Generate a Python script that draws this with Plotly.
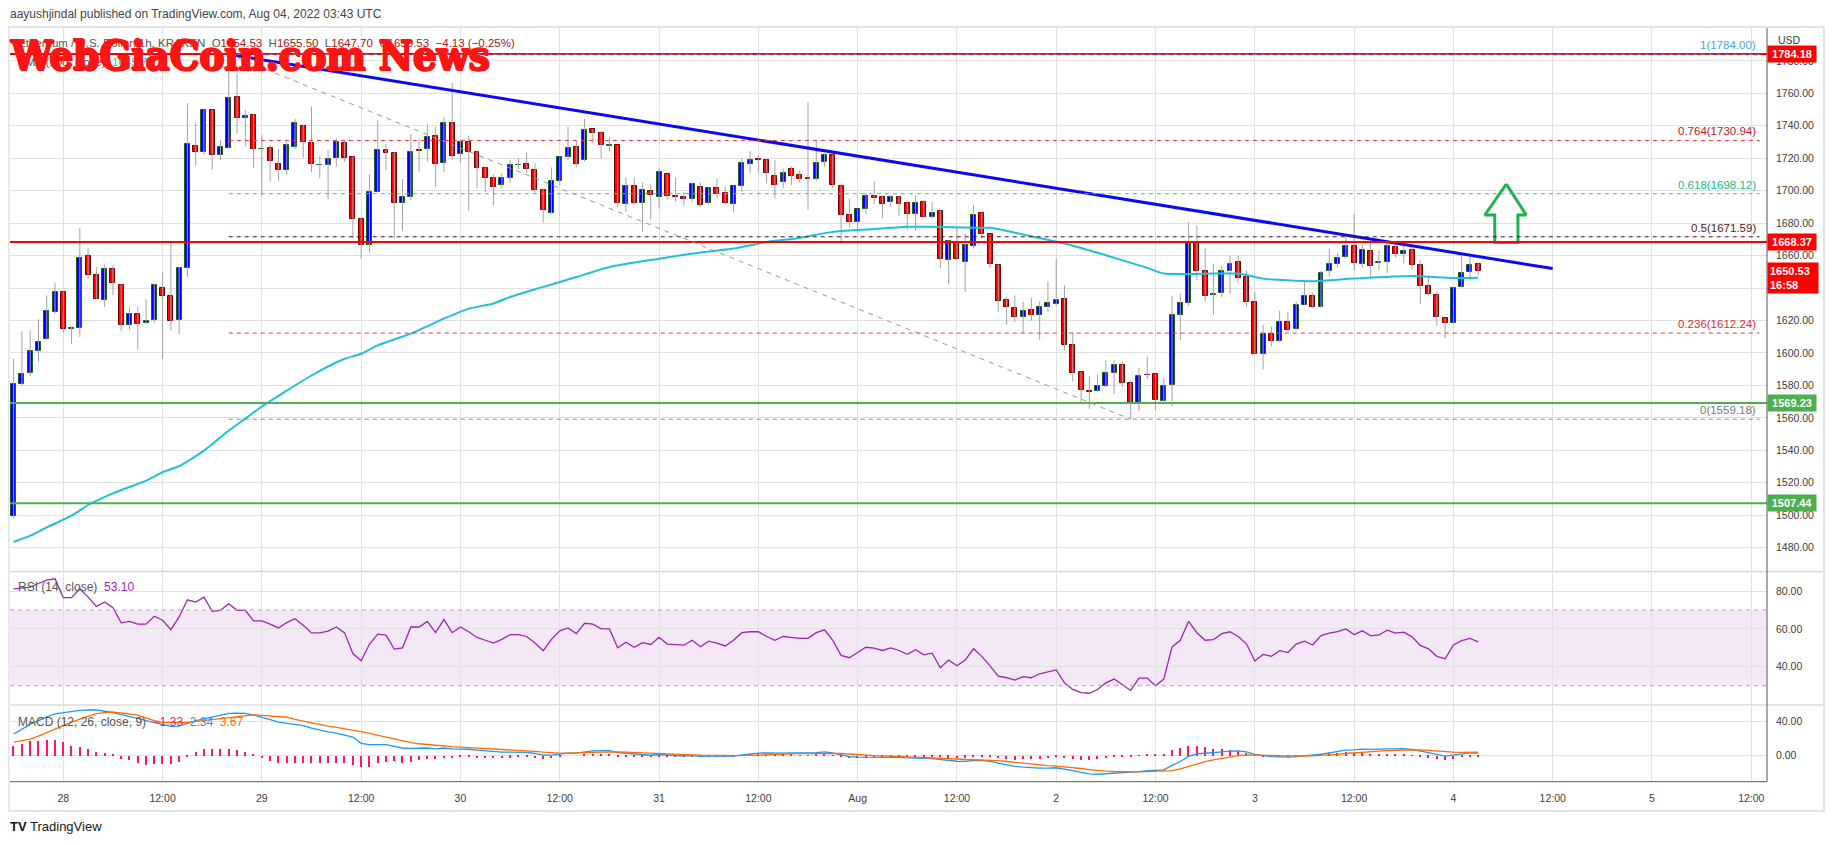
import plotly.graph_objects as go
import pandas as pd

# Screenshot is 1834x845; the HTML body keeps its default 8px margin,
# so the figure is sized to fill the rest of the window exactly.
SCREEN_W, SCREEN_H = 1834, 845
OFF = 8
W, H = SCREEN_W - OFF, SCREEN_H - OFF

# ---------------- DATA ----------------
start_time = "2022-07-27 18:00"      # first 1h candle
ref_time = "2022-07-28 00:00"        # "28" tick

opens = [1499.5, 1581.0, 1587.8, 1601.0, 1608.8, 1625.4, 1637.8, 1615.0, 1615.3, 1659.6,
         1648.3, 1632.8, 1652.0, 1642.1, 1617.4, 1624.2, 1618.4, 1620.3, 1640.2, 1635.3,
         1620.5, 1652.6, 1727.5, 1723.6, 1749.5, 1721.7, 1726.1, 1757.5, 1744.6, 1746.4,
         1725.6, 1726.0, 1716.4, 1712.9, 1727.1, 1739.6, 1729.1, 1715.7, 1715.6, 1719.9,
         1729.1, 1720.5, 1682.8, 1666.8, 1699.1, 1724.8, 1723.0, 1692.5, 1695.8, 1724.9,
         1725.4, 1733.5, 1716.8, 1741.5, 1722.3, 1729.8, 1723.6, 1713.7, 1707.5, 1703.2,
         1707.5, 1715.6, 1716.4, 1712.5, 1700.7, 1686.5, 1705.7, 1720.5, 1726.7, 1718.6,
         1737.8, 1735.3, 1727.7, 1727.9, 1691.5, 1702.6, 1692.7, 1699.5, 1695.8, 1710.0,
         1697.0, 1695.8, 1694.6, 1702.0, 1692.7, 1701.4, 1698.3, 1691.5, 1702.6, 1716.2,
         1719.3, 1718.6, 1708.8, 1705.1, 1713.1, 1709.6, 1708.1, 1706.9, 1717.4, 1721.9,
         1702.6, 1685.3, 1680.4, 1688.4, 1697.0, 1695.8, 1693.1, 1695.8, 1692.7, 1685.7,
         1693.3, 1683.5, 1687.2, 1657.5, 1668.4, 1656.3, 1666.2, 1686.5, 1673.0, 1654.4,
         1632.8, 1627.9, 1622.3, 1626.7, 1623.6, 1628.3, 1630.4, 1633.5, 1604.7, 1588.4,
         1576.7, 1576.7, 1579.8, 1587.8, 1592.7, 1581.6, 1569.3, 1586.7, 1587.2, 1570.5,
         1580.2, 1623.6, 1631.0, 1668.0, 1650.7, 1635.5, 1637.2, 1650.7, 1656.1, 1647.0,
         1631.6, 1599.5, 1611.6, 1607.2, 1619.0, 1614.9, 1629.8, 1635.3, 1628.3, 1650.7,
         1655.1, 1659.2, 1665.6, 1655.1, 1663.1, 1655.7, 1656.1, 1665.0, 1661.2, 1663.7,
         1654.4, 1641.5, 1635.9, 1621.5, 1618.4, 1640.7, 1649.9, 1654.53]
highs = [1596.4, 1613.3, 1613.9, 1620.7, 1635.5, 1643.3, 1638.0, 1616.4, 1676.9, 1664.5,
         1652.8, 1654.7, 1654.1, 1642.5, 1628.1, 1628.5, 1633.0, 1642.9, 1649.5, 1667.6,
         1653.0, 1754.0, 1742.1, 1750.0, 1750.0, 1731.2, 1784.0, 1772.3, 1749.7, 1747.2,
         1734.3, 1728.1, 1725.6, 1730.2, 1744.2, 1740.9, 1751.6, 1721.3, 1725.0, 1732.2,
         1731.2, 1721.0, 1683.8, 1710.2, 1743.5, 1728.7, 1724.0, 1707.1, 1734.9, 1732.2,
         1741.5, 1739.4, 1745.0, 1766.2, 1731.2, 1733.9, 1724.4, 1714.7, 1710.0, 1710.6,
         1718.8, 1719.9, 1723.6, 1716.8, 1701.4, 1714.3, 1721.0, 1739.4, 1730.6, 1744.2,
         1738.0, 1736.7, 1732.8, 1728.0, 1708.2, 1708.0, 1704.9, 1704.0, 1713.7, 1710.2,
         1708.2, 1699.3, 1704.9, 1704.9, 1702.0, 1707.5, 1702.4, 1702.8, 1719.9, 1724.4,
         1722.0, 1719.9, 1718.8, 1713.7, 1714.7, 1712.1, 1754.4, 1731.2, 1723.0, 1722.3,
         1704.5, 1694.8, 1688.5, 1698.7, 1705.5, 1697.2, 1697.7, 1696.8, 1693.1, 1697.2,
         1694.2, 1693.1, 1688.6, 1669.5, 1677.7, 1673.3, 1691.1, 1687.6, 1673.2, 1654.6,
         1634.7, 1635.5, 1631.4, 1634.1, 1631.8, 1644.0, 1658.1, 1641.7, 1612.9, 1588.6,
         1585.5, 1586.7, 1595.4, 1595.4, 1594.4, 1583.0, 1590.7, 1597.9, 1587.3, 1584.5,
         1635.1, 1636.5, 1680.6, 1678.7, 1664.3, 1655.1, 1654.0, 1659.8, 1659.8, 1650.9,
         1637.6, 1617.4, 1616.3, 1626.0, 1625.2, 1631.4, 1644.2, 1637.2, 1650.7, 1664.3,
         1661.3, 1671.6, 1685.3, 1666.8, 1670.5, 1663.3, 1669.9, 1667.4, 1666.4, 1665.4,
         1657.1, 1647.8, 1637.6, 1621.6, 1640.6, 1659.8, 1659.2, 1655.50]
lows = [1498.5, 1580.0, 1585.7, 1594.4, 1608.0, 1624.2, 1612.5, 1605.7, 1609.8, 1645.6,
        1633.0, 1628.3, 1635.7, 1613.5, 1614.3, 1602.4, 1618.0, 1618.6, 1596.4, 1613.9,
        1611.6, 1646.8, 1715.4, 1722.1, 1713.1, 1719.0, 1726.0, 1734.9, 1727.5, 1714.1,
        1697.2, 1705.5, 1706.1, 1709.8, 1725.4, 1720.3, 1711.6, 1707.9, 1694.6, 1714.7,
        1717.8, 1670.5, 1658.0, 1661.9, 1699.0, 1712.7, 1670.5, 1675.0, 1694.2, 1711.6,
        1717.8, 1702.4, 1711.6, 1718.8, 1717.4, 1687.6, 1701.4, 1699.3, 1690.7, 1701.8,
        1704.9, 1713.3, 1710.6, 1698.3, 1680.2, 1685.9, 1703.4, 1718.8, 1714.1, 1718.0,
        1729.1, 1719.9, 1724.0, 1690.0, 1687.0, 1691.0, 1674.6, 1682.2, 1689.0, 1694.6,
        1693.1, 1690.7, 1693.1, 1690.0, 1691.5, 1695.6, 1691.5, 1687.0, 1699.3, 1711.0,
        1711.0, 1704.5, 1695.2, 1701.4, 1703.4, 1704.9, 1688.2, 1706.1, 1714.7, 1701.4,
        1667.4, 1677.7, 1674.2, 1685.3, 1691.9, 1683.3, 1690.0, 1684.5, 1676.0, 1675.4,
        1683.3, 1682.8, 1652.4, 1642.1, 1658.0, 1637.6, 1664.3, 1670.5, 1652.4, 1625.2,
        1617.4, 1619.0, 1612.5, 1619.9, 1608.2, 1625.2, 1629.0, 1601.6, 1582.6, 1569.7,
        1565.6, 1575.8, 1579.0, 1574.6, 1579.0, 1559.18, 1564.0, 1584.0, 1564.9, 1570.0,
        1567.2, 1608.0, 1629.0, 1644.8, 1631.8, 1623.6, 1634.5, 1636.5, 1643.7, 1628.3,
        1599.3, 1589.8, 1603.9, 1606.7, 1613.3, 1613.9, 1629.3, 1627.7, 1628.0, 1647.2,
        1652.6, 1658.0, 1650.9, 1652.6, 1646.8, 1650.9, 1649.3, 1658.8, 1655.1, 1651.3,
        1630.2, 1635.5, 1616.6, 1609.2, 1618.0, 1640.0, 1644.6, 1647.70]
closes = [1581.0, 1587.2, 1601.4, 1606.9, 1626.0, 1637.8, 1615.0, 1615.3, 1658.8, 1648.1,
          1633.3, 1652.0, 1643.1, 1617.4, 1624.2, 1618.0, 1619.9, 1641.7, 1635.3, 1619.9,
          1652.6, 1728.5, 1723.6, 1749.5, 1721.7, 1726.7, 1756.9, 1744.6, 1746.0, 1725.4,
          1725.9, 1718.4, 1712.9, 1728.1, 1741.5, 1730.2, 1716.2, 1715.8, 1719.3, 1729.8,
          1720.3, 1682.8, 1666.8, 1699.1, 1724.8, 1723.0, 1692.5, 1695.8, 1723.6, 1724.7,
          1732.8, 1716.2, 1741.5, 1721.1, 1730.2, 1723.6, 1713.7, 1707.5, 1702.0, 1707.5,
          1715.6, 1715.8, 1713.1, 1700.7, 1687.8, 1705.7, 1720.5, 1726.1, 1716.2, 1737.2,
          1735.3, 1727.9, 1727.8, 1692.7, 1702.6, 1692.1, 1700.7, 1697.2, 1711.2, 1697.0,
          1696.2, 1694.6, 1703.8, 1690.9, 1701.4, 1697.7, 1692.1, 1702.6, 1716.8, 1718.6,
          1718.6, 1710.6, 1703.2, 1710.6, 1708.8, 1706.9, 1706.9, 1716.8, 1721.9, 1703.2,
          1685.3, 1680.4, 1688.4, 1697.0, 1695.6, 1691.9, 1696.4, 1691.9, 1685.7, 1692.7,
          1683.9, 1686.5, 1658.1, 1669.0, 1658.1, 1666.8, 1685.3, 1673.0, 1655.1, 1632.2,
          1628.3, 1622.3, 1626.0, 1623.6, 1628.3, 1631.0, 1632.8, 1605.1, 1587.6, 1577.3,
          1575.8, 1579.8, 1587.8, 1592.7, 1581.6, 1569.3, 1585.9, 1586.3, 1571.1, 1579.8,
          1623.6, 1631.0, 1668.0, 1650.5, 1635.3, 1636.5, 1650.7, 1655.1, 1646.4, 1631.6,
          1599.5, 1611.6, 1607.2, 1619.0, 1614.3, 1629.8, 1635.3, 1628.3, 1649.5, 1655.1,
          1658.8, 1665.6, 1655.7, 1663.7, 1653.8, 1656.1, 1666.2, 1661.2, 1663.1, 1654.4,
          1641.5, 1636.5, 1622.1, 1618.4, 1640.0, 1649.5, 1654.4, 1650.53]

# EMA(100) read at sample hours (hours after 2022-07-28 00:00)
ema_hours = [-6, -4, -2, 1, 3, 6, 10, 12, 14, 17, 20, 22, 24, 30, 34, 36, 38, 42, 46, 49,
             52, 54, 58, 62, 66, 72, 77, 81, 85, 89, 93, 97, 102, 105, 110, 112, 116, 121,
             126, 131, 133, 139, 142, 145, 151, 156, 163, 168, 171]
ema_vals = [1483.5, 1487.4, 1492.5, 1499.7, 1506.3, 1513.5, 1521.3, 1526.5, 1530.2, 1539.8,
            1552.2, 1559.5, 1567.0, 1586.1, 1596.4, 1599.5, 1604.7, 1611.9, 1621.1, 1627.3,
            1630.5, 1634.5, 1640.7, 1646.8, 1653.0, 1658.1, 1661.9, 1664.3, 1668.4, 1670.9,
            1674.6, 1676.0, 1677.7, 1677.7, 1677.1, 1677.1, 1673.0, 1667.4, 1660.2, 1652.4,
            1648.9, 1648.9, 1648.9, 1645.8, 1644.2, 1645.8, 1647.4, 1646.2, 1646.4]

# RSI(14), one value per candle
rsi_vals = [81.2, 81.8, 82.1, 84.0, 85.8, 86.5, 76.5, 76.5, 81.2, 76.8, 71.9, 74.2, 71.2,
            63.2, 64.0, 62.5, 62.5, 66.7, 64.6, 59.6, 66.3, 75.4, 74.2, 76.8, 69.3, 69.8,
            73.3, 69.8, 69.8, 64.2, 64.2, 62.5, 60.5, 63.3, 65.4, 61.9, 57.9, 57.9, 58.8,
            61.0, 57.9, 47.0, 43.2, 51.9, 57.2, 56.7, 49.3, 50.0,
            61.0, 61.0, 64.0, 58.0, 65.0, 58.0, 61.0, 58.5, 55.5, 54.0, 52.5, 54.5, 57.0,
            57.0, 56.0, 52.5, 48.5, 54.5, 59.0, 60.5, 57.5, 63.0, 62.5, 60.0, 60.0, 50.0,
            53.0, 50.3, 52.7, 51.8, 55.6, 52.0, 51.8, 51.4, 54.0, 50.6, 53.5, 52.5, 51.0,
            54.0, 58.0, 58.5, 58.5, 56.0, 54.0, 56.0, 55.5, 55.0, 55.0, 58.0, 59.5, 54.0,
            46.0, 44.8, 47.5, 50.3, 49.8, 48.6, 50.0, 48.6, 46.6, 49.0, 46.3, 47.2, 39.5,
            43.5, 40.5, 43.5, 49.5, 45.5, 40.5, 35.0, 34.2, 33.0, 34.8, 34.2, 36.3, 37.5,
            38.3, 31.5, 28.0, 26.3, 26.0, 28.0, 31.5, 33.5, 30.5, 27.5, 34.0, 34.0, 30.0,
            33.5, 50.5, 54.0, 64.0, 58.0, 54.0, 54.3, 57.5, 58.5, 56.0, 52.0, 43.0, 46.5,
            45.5, 48.5, 47.5, 52.0, 53.5, 51.5, 56.5, 57.8, 58.6, 60.0, 57.0, 59.0, 56.3,
            56.8, 59.3, 57.8, 58.3, 55.8, 51.3, 49.5, 45.5, 44.2, 51.5, 53.8, 55.0, 53.1]
macd_vals = [25, 31, 36.5, 41, 45.5, 49, 50.5, 51.5, 53, 53.7, 53.5, 52, 50.5, 48, 46, 43.5,
             41, 38.5, 36.5, 34, 34.5, 38, 41, 43, 45, 47, 49.5, 49.8, 49.5, 47.5, 45, 42,
             39, 37.5, 36.5, 35, 32, 29.4, 27.5, 26, 24, 21.5, 14, 12.5, 12.5, 12.5, 10.5, 8.5,
             8, 8, 8.5, 7.5, 8.5, 7.5, 7.5, 7,
             6, 5, 4, 3.5, 3.5, 3.5, 3.2, 2, 0,
             0, 1, 2.5, 2.5, 4, 5, 5.3, 5.5,
             3, 2.3, 1, 0.5, -0.1, 0.8, 0, -0.5, -1, -0.5, -1.5, -1.2, -1.3, -1.8, -1.2,
             0.2, 1.5, 2.5, 2.6, 2.2, 2.5, 2.6, 2.5, 2.4, 3.1, 3.8,
             2.8, 0.5, -1.6, -2.4, -2.3, -2.3, -2.5, -2.3, -2.6, -3.3, -3.2, -3.9, -4.2,
             -5.3, -6, -7.2, -7.4, -6.3, -6.2, -7.3, -9.4, -11.4, -13.2, -14.2, -15.1, -15.4,
             -15.3, -14.9,
             -16.5, -18.6, -20.8, -22.1, -22.6, -22, -21, -20.6, -20.6, -19.4, -18.2, -18.2,
             -17.4,
             -12, -7.5, -1.5, 1.5, 2.3, 2.8, 3.8, 4.8, 5, 4,
             1, -0.5, -1.8, -2, -2.4, -1.6, -0.6, -0.3,
             1.2, 2.8, 4.2, 5.9, 6.3, 7.2, 6.9, 6.8, 7.5, 7.5, 7.6, 6.8,
             5.1, 3.4, 0.9, -1.2, 0.1, 1.5, 2.6, 2.34]
signal_vals = [15.5, 17.3, 19.1, 22.6, 26.8, 31.1, 35.1, 39, 42.6, 46.3, 49.2, 50.4, 51,
               49.9, 48.5, 47.3, 44.2, 41, 38.9, 38.7, 38.6, 38.7, 39.9, 41.1, 42.4, 43.6,
               44.8, 45.8, 47, 47.8, 47.1, 46.4, 45.7, 44.9, 42.5, 40.3, 38.1, 35.9, 34.4,
               33, 31.5, 30, 27.9, 25.8, 23.7, 21.6, 19.1, 16.6,
               14.9, 13.5, 12.5, 11.5, 10.9, 10.2, 9.6, 9.1,
               8.5, 7.8, 7.1, 6.4, 5.8, 5.4, 5.0, 4.4, 3.5,
               2.8, 2.5, 2.5, 2.5, 2.8, 3.2, 3.6, 4.0,
               3.8, 3.5, 3.0, 2.5, 2.0, 1.8, 1.4, 1.0, 0.6, 0.4, 0.0, -0.2, -0.4, -0.7, -0.8,
               -0.6, -0.2, 0.3, 0.8, 1.1, 1.4, 1.6, 1.8, 1.9, 2.1, 2.5,
               2.6, 2.2, 1.4, 0.6, 0.0, -0.5, -0.9, -1.2, -1.5, -1.8, -2.1, -2.5, -2.8,
               -3.3, -3.8, -4.5, -5.1, -5.3, -5.5, -5.8, -6.5, -7.5, -8.6, -9.7, -10.8, -11.7,
               -12.4, -12.9,
               -13.6, -14.6, -15.8, -17.1, -18.2, -18.9, -19.3, -19.6, -19.8, -19.8, -19.5,
               -19.3, -19.0,
               -18.4, -16.2, -13.2, -10.2, -7.7, -5.6, -3.7, -2.0, -0.6, 0.3,
               0.4, 0.2, -0.2, -0.6, -1.0, -1.1, -1.0, -0.9,
               -0.5, 0.2, 1.0, 2.0, 2.9, 3.8, 4.4, 4.9, 5.4, 5.8, 6.2, 6.4,
               6.2, 5.6, 4.7, 3.9, 3.5, 3.4, 3.7, 3.67]
hist_vals = [11, 13.7, 16.9, 17.6, 18.8, 18.8, 15.7, 11.8, 10.6, 7.8, 4.7, 3.5, 1.2, -3.9,
             -5.5, -9, -10.6, -9.8, -9.8, -9.8, -7.8, -0.4, 4.7, 7.8, 7.8, 7.8, 7.8, 6.7,
             4.7, 1.2, -3.1, -5.9, -8.6, -9, -8.6, -9, -9, -9, -9, -9, -9, -10.6, -13.7,
             -12.9, -9, -7, -5.9, -8.1,
             -6.9, -5.5, -4, -4, -2.4, -2.7, -2.1, -2.1,
             -2.5, -2.8, -3.1, -2.9, -2.3, -1.9, -1.8, -2.4, -3.5,
             -2.8, -1.5, 0, 0, 1.2, 1.8, 1.7, 1.5,
             -0.8, -1.2, -2, -2, -2.1, -1, -1.4, -1.5, -1.6, -0.9, -1.5, -1, -0.9, -1.1, -0.4,
             0.8, 1.7, 2.2, 1.8, 1.1, 1.1, 1, 0.7, 0.5, 1, 1.3,
             0.2, -1.7, -3, -3, -2.3, -1.8, -1.6, -1.1, -1.1, -1.5, -1.1, -1.4, -1.4,
             -2, -2.2, -2.7, -2.3, -1, -0.7, -1.5, -2.9, -3.9, -4.6, -4.5, -4.3, -3.7, -2.9, -2,
             -2.9, -4, -5, -5, -4.4, -3.1, -1.7, -1, -0.8, 0.4, 1.3, 1.1, 1.6,
             6.4, 8.7, 11.7, 11.7, 10, 8.4, 7.5, 6.8, 5.6, 3.7,
             0.6, -0.7, -1.6, -1.4, -1.4, -0.5, 0.4, 0.6,
             1.7, 2.6, 3.2, 3.9, 3.4, 3.4, 2.5, 1.9, 2.1, 1.7, 1.4, 0.4,
             -1.1, -2.2, -3.8, -5.1, -3.4, -1.9, -1.1, -1.33]

time_tick_hours = list(range(0, 205, 12))
time_tick_labels = ["28", "12:00", "29", "12:00", "30", "12:00", "31", "12:00", "Aug",
                    "12:00", "2", "12:00", "3", "12:00", "4", "12:00", "5", "12:00"]
price_ticks = list(range(1480, 1781, 20))
rsi_ticks = [40, 60, 80]
macd_ticks = [0, 40]

fib_ratios = ["1", "0.764", "0.618", "0.5", "0.236", "0"]
fib_prices = [1784.00, 1730.94, 1698.12, 1671.59, 1612.24, 1559.18]
fib_start = "2022-07-28 20:00"
fib_end = "2022-08-05 13:00"
fib_low_time = "2022-08-02 09:00"

level_prices = [1784.18, 1668.37, 1569.23, 1507.44]
level_is_support = [False, False, True, True]

trend_times = ["2022-07-28 20:00", "2022-08-04 12:00"]
trend_prices = [1784.0, 1652.0]

arrow_hours = [174.4, 176.8, 175.8, 175.8, 173.0, 173.0, 171.8, 174.4]
arrow_prices = [1704.0, 1685.0, 1685.0, 1668.0, 1668.0, 1685.0, 1685.0, 1704.0]

last_close = 1650.53
countdown = "16:58"
rsi_last = "53.10"
macd_legend = ["\u22121.33", "2.34", "3.67"]
ema_last = "1645.73"

# ---------------- HELPERS (screen pixels -> paper) ----------------
def px(x):
    return (x - OFF) / W

def py(y):
    return 1 - (y - OFF) / H

t0 = pd.Timestamp(ref_time)
times = pd.date_range(start_time, periods=len(opens), freq="h")
hour_ms = 3600 * 1000

UP_FILL, UP_LINE = "#0000ff", "#1b5e20"
DN_FILL, DN_LINE = "#ff0000", "#7a0000"
GRID = "#e1e1e1"
TXT = "#3c3c3c"
FONT = "Liberation Sans"
SP = "\u00a0 "

up = [c >= o for o, c in zip(opens, closes)]

fig = go.Figure()

# wicks
wx, wy = [], []
for t, lo, hi in zip(times, lows, highs):
    wx += [t, t, None]
    wy += [lo, hi, None]
fig.add_trace(go.Scatter(x=wx, y=wy, mode="lines", line=dict(color="#a3a3a3", width=1),
                         hoverinfo="skip", xaxis="x", yaxis="y"))

# EMA
fig.add_trace(go.Scatter(x=[t0 + pd.Timedelta(hours=h) for h in ema_hours], y=ema_vals,
                         mode="lines", line=dict(color="#1fc1d8", width=2, shape="spline", smoothing=0.6),
                         hoverinfo="skip", xaxis="x", yaxis="y"))

# bodies
fig.add_trace(go.Bar(
    x=times, y=[max(abs(c - o), 0.25) for o, c in zip(opens, closes)],
    base=[min(o, c) for o, c in zip(opens, closes)],
    width=0.6 * hour_ms,
    marker=dict(color=[UP_FILL if u else DN_FILL for u in up],
                line=dict(color=[UP_LINE if u else DN_LINE for u in up], width=1)),
    hoverinfo="skip", xaxis="x", yaxis="y"))

# trend line
fig.add_trace(go.Scatter(x=trend_times, y=trend_prices, mode="lines",
                         line=dict(color="#0a0af0", width=3), hoverinfo="skip",
                         xaxis="x", yaxis="y"))

# green arrow
fig.add_trace(go.Scatter(x=[t0 + pd.Timedelta(hours=h) for h in arrow_hours], y=arrow_prices,
                         mode="lines", line=dict(color="#1db34f", width=3), hoverinfo="skip",
                         xaxis="x", yaxis="y"))

# RSI
fig.add_trace(go.Scatter(x=times[:len(rsi_vals)], y=rsi_vals, mode="lines",
                         line=dict(color="#9c27b0", width=1.3), hoverinfo="skip",
                         xaxis="x2", yaxis="y2"))

# MACD
fig.add_trace(go.Bar(x=times[:len(hist_vals)], y=hist_vals, width=0.16 * hour_ms,
                     marker=dict(color="#ff1472", line=dict(width=0)), hoverinfo="skip",
                     xaxis="x3", yaxis="y3"))
fig.add_trace(go.Scatter(x=times[:len(macd_vals)], y=macd_vals, mode="lines",
                         line=dict(color="#2196f3", width=1.3), hoverinfo="skip",
                         xaxis="x3", yaxis="y3"))
fig.add_trace(go.Scatter(x=times[:len(signal_vals)], y=signal_vals, mode="lines",
                         line=dict(color="#ff6d00", width=1.3), hoverinfo="skip",
                         xaxis="x3", yaxis="y3"))

# ---------------- LAYOUT (screen pixel positions) ----------------
X_L, X_R = 10, 1767
MAIN_T, MAIN_B = 27, 571.7
RSI_T, RSI_B = 572.5, 705
MACD_T, MACD_B = 705.5, 781.7

x_range = [t0 + pd.Timedelta(hours=-6.44), t0 + pd.Timedelta(hours=205.9)]
tickvals = [t0 + pd.Timedelta(hours=h) for h in time_tick_hours]

xcommon = dict(type="date", range=x_range, domain=[px(X_L), px(X_R)], showgrid=True,
               gridcolor=GRID, gridwidth=1, tickvals=tickvals, zeroline=False,
               showline=False, fixedrange=True)
ycommon = dict(side="right", showgrid=True, gridcolor=GRID, gridwidth=1, zeroline=False,
               showline=False, ticks="", tickfont=dict(family=FONT, size=10.5, color=TXT),
               tickformat=".2f", ticklabelstandoff=8, fixedrange=True)

layout = dict(
    width=W, height=H, margin=dict(l=0, r=0, t=0, b=0),
    paper_bgcolor="white", plot_bgcolor="white", showlegend=False, bargap=0,
    barmode="overlay",
    xaxis=dict(xcommon, anchor="y", showticklabels=False),
    xaxis2=dict(xcommon, anchor="y2", matches="x", showticklabels=False),
    xaxis3=dict(xcommon, anchor="y3", matches="x", showticklabels=True, ticktext=time_tick_labels,
                tickfont=dict(family=FONT, size=10.5, color=TXT), ticklabelstandoff=9),
    yaxis=dict(ycommon, anchor="x", domain=[py(MAIN_B), py(MAIN_T)], range=[1465.2, 1800.85],
               tickvals=price_ticks),
    yaxis2=dict(ycommon, anchor="x2", domain=[py(RSI_B), py(RSI_T)], range=[19.8, 89.8],
                tickvals=rsi_ticks),
    yaxis3=dict(ycommon, anchor="x3", domain=[py(MACD_B), py(MACD_T)], range=[-31.4, 58.8],
                tickvals=macd_ticks),
)
fig.update_layout(**layout)

shapes = []
shapes.append(dict(type="rect", xref="x2 domain", yref="y2", x0=0, x1=1, y0=30, y1=70,
                   fillcolor="rgba(156,39,176,0.11)", line=dict(width=0), layer="below"))
for lvl in (30, 70):
    shapes.append(dict(type="line", xref="x2 domain", yref="y2", x0=0, x1=1, y0=lvl, y1=lvl,
                       line=dict(color="#b0a4bc", width=1, dash="4px,4px")))
for p, sup in zip(level_prices, level_is_support):
    shapes.append(dict(type="line", xref="x domain", yref="y", x0=0, x1=1, y0=p, y1=p,
                       line=dict(color="#4caf50" if sup else "#ff0000", width=2)))
fib_line_colors = ["#5b8fd6", "#f23645", "#2ec79b", "#4a0f2c", "#e53935", "#8c8c8c"]
fib_text_colors = ["#4aa3df", "#b71c1c", "#22b98a", "#5a1530", "#d32f2f", "#777777"]
for p, col in zip(fib_prices, fib_line_colors):
    shapes.append(dict(type="line", xref="x", yref="y", x0=fib_start, x1=fib_end, y0=p, y1=p,
                       line=dict(color=col, width=1, dash="4px,4px")))
shapes.append(dict(type="line", xref="x", yref="y", x0=fib_start, x1=fib_low_time,
                   y0=fib_prices[0], y1=fib_prices[-1],
                   line=dict(color="#9a9a9a", width=1, dash="5px,5px")))
for yy in (MAIN_B, RSI_B):
    shapes.append(dict(type="line", xref="paper", yref="paper", x0=px(X_L), x1=px(1823),
                       y0=py(yy), y1=py(yy), line=dict(color="#c9cbd1", width=1)))
shapes.append(dict(type="line", xref="paper", yref="paper", x0=px(X_R), x1=px(X_R),
                   y0=py(MAIN_T), y1=py(MACD_B), line=dict(color="#555555", width=1)))
shapes.append(dict(type="line", xref="paper", yref="paper", x0=px(X_L), x1=px(X_R),
                   y0=py(MACD_B), y1=py(MACD_B), line=dict(color="#555555", width=1)))
shapes.append(dict(type="rect", xref="paper", yref="paper", x0=px(8.5), x1=px(1824),
                   y0=py(811), y1=py(27), line=dict(color="#e3e4ea", width=2)))
fig.update_layout(shapes=shapes)

ann = []
ann.append(dict(xref="paper", yref="paper", x=px(8), y=py(14), xanchor="left", yanchor="middle",
                text="aayushjindal published on TradingView.com, Aug 04, 2022 03:43 UTC",
                showarrow=False, font=dict(family=FONT, size=12, color="#444444")))
val = "#a31515"
ann.append(dict(xref="paper", yref="paper", x=px(16), y=py(43), xanchor="left", yanchor="middle",
                text=("Ethereum / U.S. Dollar, 1h, KRAKEN" + SP +
                      f"O<span style='color:{val}'>1654.53</span>" + SP +
                      f"H<span style='color:{val}'>1655.50</span>" + SP +
                      f"L<span style='color:{val}'>1647.70</span>" + SP +
                      f"C<span style='color:{val}'>1650.53</span>" + SP +
                      f"<span style='color:{val}'>\u22124.13 (\u22120.25%)</span>"),
                showarrow=False, font=dict(family=FONT, size=11.5, color="#555555")))
ann.append(dict(xref="paper", yref="paper", x=px(16), y=py(62), xanchor="left", yanchor="middle",
                text=f"EMA (100, close)" + SP + f"<span style='color:#1fc1d8'>{ema_last}</span>",
                showarrow=False, font=dict(family=FONT, size=11.5, color="#555555")))
wm_col = "#ff1414"
ann.append(dict(xref="paper", yref="paper", x=px(8), y=py(56), xanchor="left", yanchor="middle",
                text="<b>WebGiaCoin.com News</b>", showarrow=False,
                font=dict(family="DejaVu Serif Condensed, Liberation Serif", size=41.5, color=wm_col,
                          shadow=(f"1px 0 0 {wm_col}, -1px 0 0 {wm_col}, 0 1px 0 {wm_col}, "
                                  f"0 -1px 0 {wm_col}, 1px 1px 0 {wm_col}, -1px -1px 0 {wm_col}"))))
for r, p, col in zip(fib_ratios, fib_prices, fib_text_colors):
    ann.append(dict(xref="paper", yref="y", x=px(1758), y=p, xanchor="right", yanchor="bottom",
                    yshift=1, text=f"{r}({p:.2f})", showarrow=False,
                    font=dict(family=FONT, size=11.5, color=col)))
for p, sup in zip(level_prices, level_is_support):
    ann.append(dict(xref="paper", yref="y", x=px(X_R), y=p, xanchor="left", yanchor="middle",
                    text=f"<b>{p:.2f}</b>", showarrow=False, width=46, height=14, borderpad=1,
                    bgcolor="#4caf50" if sup else "#ff0000",
                    font=dict(family=FONT, size=11, color="white")))
ann.append(dict(xref="paper", yref="y", x=px(X_R), y=last_close, xanchor="left", yanchor="top",
                yshift=9, text=f"<b>{last_close:.2f}<br>{countdown}</b>", showarrow=False,
                width=46, borderpad=2, bgcolor="#ff0000", align="left",
                font=dict(family=FONT, size=11, color="white")))
ann.append(dict(xref="paper", yref="paper", x=px(1776), y=py(40), xanchor="left",
                yanchor="middle", text="USD", showarrow=False,
                font=dict(family=FONT, size=10.5, color=TXT)))
ann.append(dict(xref="paper", yref="paper", x=px(16), y=py(587), xanchor="left", yanchor="middle",
                text=f"RSI (14, close)" + SP + f"<span style='color:#9c27b0'>{rsi_last}</span>",
                showarrow=False, font=dict(family=FONT, size=12, color="#555555")))
ann.append(dict(xref="paper", yref="paper", x=px(16), y=py(722), xanchor="left", yanchor="middle",
                text=("MACD (12, 26, close, 9)" + SP +
                      f"<span style='color:#ff1472'>{macd_legend[0]}</span>" + SP +
                      f"<span style='color:#2196f3'>{macd_legend[1]}</span>" + SP +
                      f"<span style='color:#ff6d00'>{macd_legend[2]}</span>"),
                showarrow=False, font=dict(family=FONT, size=12, color="#555555")))
ann.append(dict(xref="paper", yref="paper", x=px(8), y=py(826), xanchor="left", yanchor="middle",
                text="<b>TV</b> TradingView", showarrow=False,
                font=dict(family=FONT, size=13, color="#131722")))
fig.update_layout(annotations=ann)

fig.write_html("out.html")
